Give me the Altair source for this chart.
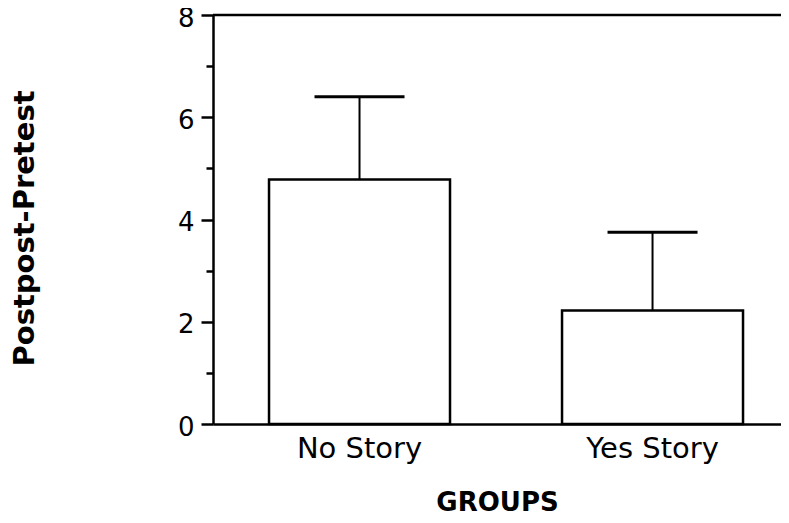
import altair as alt
import pandas as pd

groups = ["No Story", "Yes Story"]
means = [4.78, 2.22]
errors = [1.62, 1.53]

df = pd.DataFrame({
    "group": groups,
    "mean": means,
    "top": [m + e for m, e in zip(means, errors)],
})

FONT = "DejaVu Sans"
W = 568
H = 409

x_enc = alt.X(
    "group:N",
    sort=groups,
    scale=alt.Scale(paddingInner=0.3823, paddingOuter=0.1604, align=0.596),
    axis=alt.Axis(
        title="GROUPS",
        labelAngle=0,
        ticks=False,
        domain=True,
        domainColor="black",
        domainWidth=2.5,
        labelFont=FONT,
        labelFontSize=29,
        labelColor="black",
        labelPadding=10,
        titleFont=FONT,
        titleFontSize=26,
        titleFontWeight="bold",
        titleColor="black",
        titlePadding=26,
    ),
)

y_scale = alt.Scale(domain=[0, 8], nice=False, zero=True)

bars = alt.Chart(df).mark_bar(
    fill="white", stroke="black", strokeWidth=2.5
).encode(
    x=x_enc,
    y=alt.Y(
        "mean:Q",
        scale=y_scale,
        axis=alt.Axis(
            title="Postpost-Pretest",
            values=[0, 1, 2, 3, 4, 5, 6, 7, 8],
            labelExpr="datum.value % 2 === 0 ? datum.label : ''",
            tickSize={"condition": {"test": "datum.value % 2 === 0", "value": 12}, "value": 7},
            tickColor="black",
            tickWidth=2.5,
            domainColor="black",
            domainWidth=2.5,
            grid=False,
            labelFont=FONT,
            labelFontSize=26,
            labelColor="black",
            labelPadding=7,
            labelOffset=3,
            labelFlush=False,
            titleFont=FONT,
            titleFontSize=29,
            titleFontWeight="bold",
            titleColor="black",
            titlePadding=138,
            titleY=213,
        ),
    ),
)

err_rule = alt.Chart(df).mark_rule(color="black", strokeWidth=2, opacity=1).encode(
    x=alt.X("group:N", sort=groups),
    y=alt.Y("mean:Q", scale=y_scale),
    y2="top:Q",
)

caps = alt.Chart(df).mark_tick(
    color="black", thickness=3, size=90, orient="horizontal", opacity=1
).encode(
    x=alt.X("group:N", sort=groups),
    y=alt.Y("top:Q", scale=y_scale),
)

top_line = alt.Chart(pd.DataFrame({"v": [8]})).mark_rule(
    color="black", strokeWidth=2.5
).encode(
    y=alt.Y("v:Q", scale=y_scale),
    x=alt.value(0),
    x2=alt.value(W),
)

chart = alt.layer(bars, err_rule, caps, top_line).properties(
    width=W,
    height=H,
    padding={"left": 205, "top": 7, "right": 0, "bottom": 91},
    autosize=alt.AutoSizeParams(type="none"),
    background="white",
).configure_view(stroke=None)

chart.save("out.html", embed_options={"renderer": "svg", "actions": False})
